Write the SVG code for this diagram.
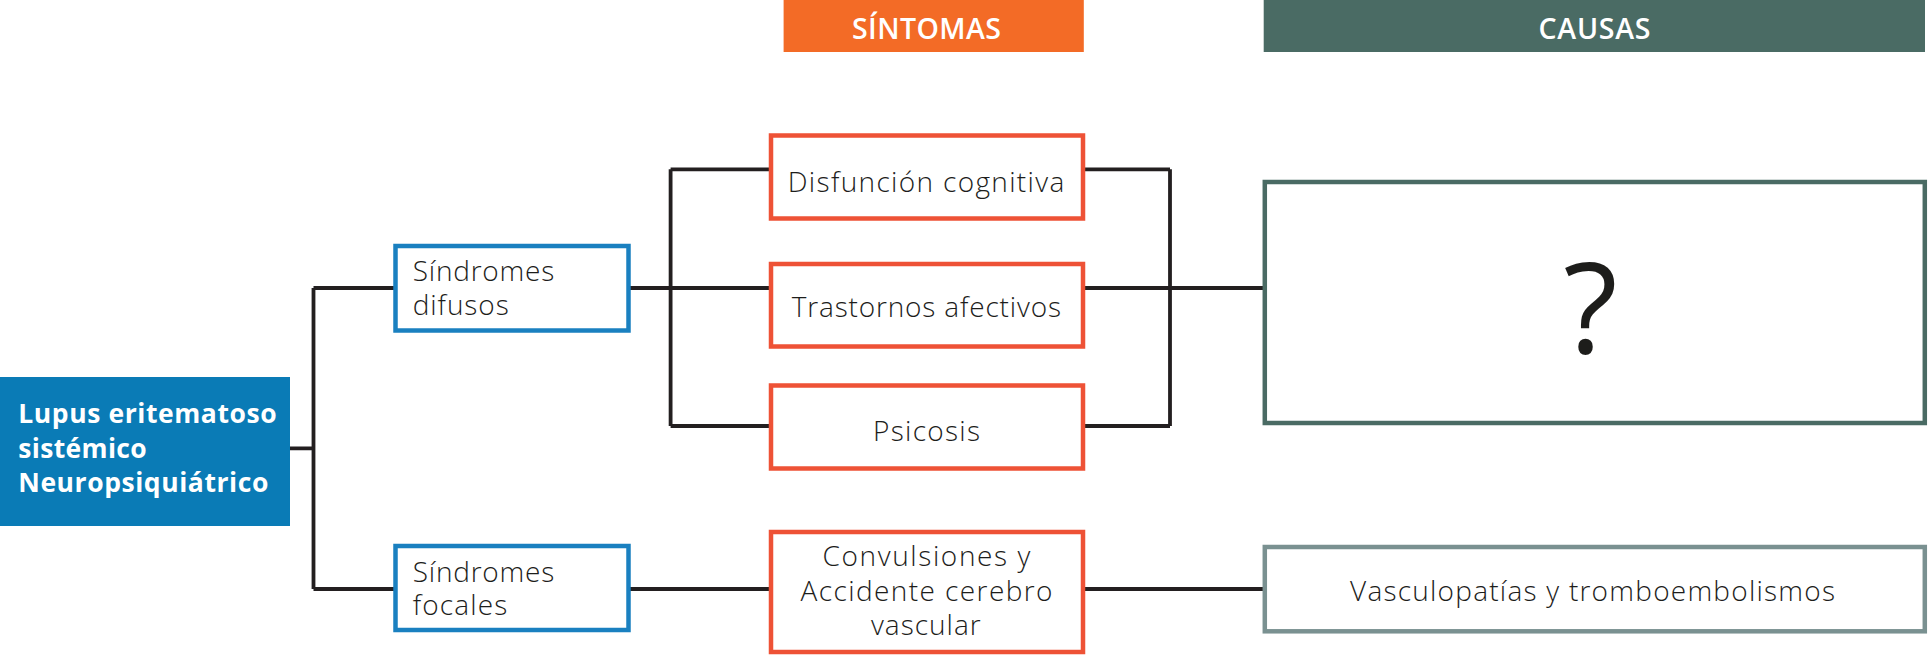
<svg xmlns="http://www.w3.org/2000/svg" width="1928" height="655" viewBox="0 0 1928 655">
<style>
text{font-variant-ligatures:none}
.lt{font-family:"Open Sans","Noto Sans","Liberation Sans",sans-serif;font-weight:300;font-size:28px;fill:#1d1d1b}
.hd{font-family:"Open Sans","Noto Sans","Liberation Sans",sans-serif;font-weight:600;font-size:28.5px;fill:#ffffff}
.wb{font-family:"Open Sans","Noto Sans","Liberation Sans",sans-serif;font-weight:700;font-size:26.5px;fill:#ffffff}
.sym{fill:#ffffff;stroke:#ee5236;stroke-width:4.5}
.syn{fill:#ffffff;stroke:#1a80c0;stroke-width:4.5}
.cau{fill:#ffffff;stroke:#4a6b64;stroke-width:4.5}
.cau2{fill:#ffffff;stroke:#7a9191;stroke-width:4.5}
.ln{fill:none;stroke:#231f20;stroke-width:3.8}
</style>
<rect width="1928" height="655" fill="#ffffff"/>
<g id="connectors">
<path class="ln" d="M290 448.3 H313.5 M313.5 288 V589 M313.5 288 H394 M313.5 589 H394"/>
<path class="ln" d="M630 288 H769 M670.6 169.3 V426 M670.6 169.3 H769 M670.6 426 H769"/>
<path class="ln" d="M1085 169.3 H1170 M1085 288 H1263 M1085 426 H1170 M1170 169.3 V426"/>
<path class="ln" d="M630 589 H769 M1085 589 H1263"/>
</g>
<g id="header-sintomas">
<rect x="783.6" y="0" width="300.2" height="52" fill="#f36b26"/>
<text class="hd" x="852" y="38.5" textLength="149">SÍNTOMAS</text>
</g>
<g id="header-causas">
<rect x="1263.7" y="0" width="661.3" height="52" fill="#4a6b64"/>
<text class="hd" x="1538.5" y="38.5" textLength="112">CAUSAS</text>
</g>
<g id="lupus">
<rect x="0" y="377" width="290" height="149" fill="#0a7bb6"/>
<text class="wb" x="18.3" y="423.3" textLength="258.4">Lupus eritematoso</text>
<text class="wb" x="18.3" y="458.3" textLength="128.4">sistémico</text>
<text class="wb" x="18.3" y="491.7" textLength="250">Neuropsiquiátrico</text>
</g>
<g id="sindromes-difusos">
<rect class="syn" x="395.5" y="246" width="233" height="84.5"/>
<text class="lt" x="412.7" y="280.5" textLength="141.6">Síndromes</text>
<text class="lt" x="412.7" y="315" textLength="96">difusos</text>
</g>
<g id="sindromes-focales">
<rect class="syn" x="395.5" y="546" width="233" height="84"/>
<text class="lt" x="412.7" y="581.7" textLength="141.6">Síndromes</text>
<text class="lt" x="412.7" y="615" textLength="94.6">focales</text>
</g>
<g id="disfuncion">
<rect class="sym" x="771" y="135.5" width="312" height="83"/>
<text class="lt" x="787.7" y="191.7" textLength="276.6">Disfunción cognitiva</text>
</g>
<g id="trastornos">
<rect class="sym" x="771" y="264" width="312" height="82.5"/>
<text class="lt" x="791.7" y="316.7" textLength="269.3">Trastornos afectivos</text>
</g>
<g id="psicosis">
<rect class="sym" x="771" y="385.5" width="312" height="83"/>
<text class="lt" x="873" y="440.5" textLength="107">Psicosis</text>
</g>
<g id="convulsiones">
<rect class="sym" x="771" y="532" width="312" height="120"/>
<text class="lt" x="822.6" y="565.7" textLength="207.8">Convulsiones y</text>
<text class="lt" x="800.5" y="601" textLength="252">Accidente cerebro</text>
<text class="lt" x="871" y="635" textLength="109.7">vascular</text>
</g>
<g id="causa-desconocida">
<rect class="cau" x="1264.8" y="182" width="660" height="241"/>
<text x="1590.5" y="353.3" text-anchor="middle" style="font-family:'Open Sans','Noto Sans',sans-serif;font-weight:400;font-size:126px;fill:#1d1d1b">?</text>
</g>
<g id="vasculopatias">
<rect class="cau2" x="1264.8" y="547" width="660" height="84.3"/>
<text class="lt" x="1350" y="601" textLength="485">Vasculopatías y tromboembolismos</text>
</g>
</svg>
